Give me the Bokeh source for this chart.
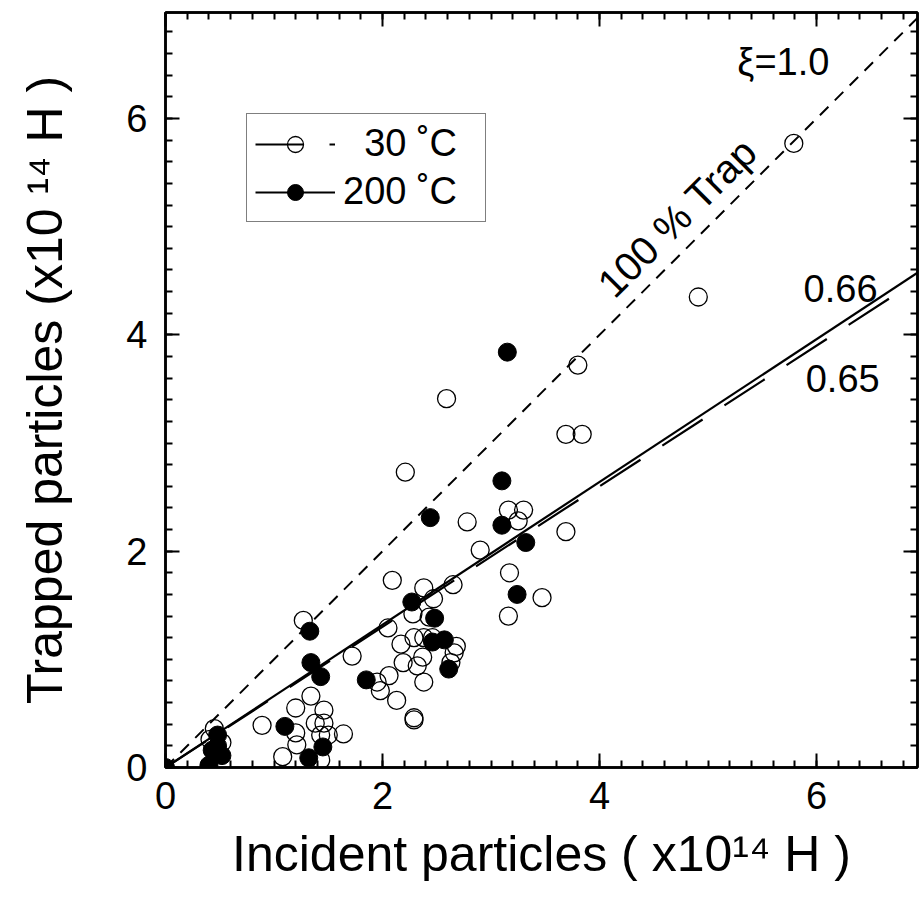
import math
from bokeh.plotting import figure
from bokeh.models import (Range1d, LinearAxis, SingleIntervalTicker, Label,
                          Legend, LegendItem)
from bokeh.embed import file_html
from bokeh.resources import INLINE

# ---------------- data ----------------
x30 = [0.45, 0.41, 0.52, 0.89, 1.08, 1.20, 1.20, 1.21, 1.27, 1.34, 1.38, 1.46,
       1.43, 1.50, 1.46, 1.43, 1.64, 1.72, 1.95, 1.98, 2.06, 2.05, 2.09, 2.13,
       2.17, 2.19, 2.21, 2.28, 2.29, 2.29, 2.29, 2.32, 2.37, 2.38, 2.38, 2.38,
       2.43, 2.46, 2.47, 2.59, 2.63, 2.66, 2.68, 2.65, 2.78, 2.90, 3.16, 3.30,
       3.25, 3.17, 3.16, 3.47, 3.69, 3.69, 3.84, 3.80, 4.91, 5.79]
y30 = [0.36, 0.26, 0.23, 0.39, 0.10, 0.55, 0.32, 0.21, 1.36, 0.66, 0.41, 0.41,
       0.30, 0.30, 0.53, 0.07, 0.31, 1.03, 0.79, 0.71, 0.85, 1.29, 1.73, 0.62,
       1.14, 0.97, 2.73, 1.42, 1.20, 0.46, 0.44, 0.94, 1.02, 1.66, 1.20, 0.79,
       1.39, 1.20, 1.56, 3.41, 0.97, 1.06, 1.12, 1.69, 2.27, 2.01, 2.38, 2.38,
       2.28, 1.80, 1.40, 1.57, 2.18, 3.08, 3.08, 3.72, 4.35, 5.77]

x200 = [0.00, 0.40, 0.43, 0.52, 0.48, 0.48, 1.10, 1.32, 1.45, 1.34, 1.43, 1.33,
        1.85, 2.27, 2.44, 2.48, 2.46, 2.57, 2.61, 3.10, 3.10, 3.15, 3.32, 3.24]
y200 = [0.00, 0.02, 0.16, 0.11, 0.30, 0.20, 0.38, 0.09, 0.19, 0.97, 0.84, 1.26,
        0.81, 1.53, 2.31, 1.38, 1.16, 1.18, 0.91, 2.65, 2.24, 3.84, 2.08, 1.60]

slope_full = 1.0      # 100 % trap (xi = 1.0)
slope_200 = 0.66      # fit 200 C
slope_30 = 0.65       # fit 30 C

series_labels = ["\u200730 \u02daC", "200 \u02daC"]
x_title = "Incident particles ( x10\u00b9\u2074 H )"
y_title = "Trapped particles (x10 \u00b9\u2074 H )"
tick_interval = 2

x_end = 6.93
y_end = 6.98

FONT = "Liberation Sans"

p = figure(width=919, height=904, x_range=Range1d(0, x_end), y_range=Range1d(0, y_end),
           output_backend="svg", toolbar_location=None,
           x_axis_location=None, y_axis_location=None,
           min_border_left=165, min_border_right=2, min_border_top=12, min_border_bottom=137)
p.outline_line_color = "black"
p.outline_line_width = 2.5
p.background_fill_color = "white"
p.border_fill_color = "white"
for g in p.grid:
    g.grid_line_color = None
    g.visible = False


def make_axis(labels, standoff):
    ax = LinearAxis(ticker=SingleIntervalTicker(interval=tick_interval, num_minor_ticks=10))
    ax.axis_line_width = 2.5
    ax.axis_line_color = "black"
    ax.major_tick_in = 14
    ax.major_tick_out = 0
    ax.minor_tick_in = 7
    ax.minor_tick_out = 0
    ax.major_tick_line_width = 2
    ax.minor_tick_line_width = 2
    ax.major_tick_line_color = "black"
    ax.minor_tick_line_color = "black"
    if labels:
        ax.major_label_text_font = FONT
        ax.major_label_text_font_size = "38px"
        ax.major_label_text_color = "black"
        ax.major_label_standoff = standoff
        ax.axis_label_text_font = FONT
        ax.axis_label_text_font_size = "50px"
        ax.axis_label_text_font_style = "normal"
        ax.axis_label_text_color = "black"
    else:
        ax.major_label_text_font_size = "1px"
        ax.major_label_text_color = None
        ax.major_label_standoff = 0
    return ax


xaxis = make_axis(True, 14)
xaxis.axis_label = x_title
xaxis.axis_label_standoff = 14
yaxis = make_axis(True, 18)
yaxis.axis_label = y_title
yaxis.axis_label_standoff = 50
p.add_layout(xaxis, "below")
p.add_layout(yaxis, "left")
p.add_layout(make_axis(False, 0), "above")
p.add_layout(make_axis(False, 0), "right")

# lines
xs_line = [0, x_end]
p.line(xs_line, [slope_full * v for v in xs_line], line_color="black", line_width=2,
       line_dash="12 9")
xs30 = [0, 6.8]
r30_line = p.line(xs30, [slope_30 * v for v in xs30], line_color="black",
                  line_width=2.2, line_dash="48 26")
r200_line = p.line(xs_line, [slope_200 * v for v in xs_line], line_color="black",
                   line_width=2.2)

# points
r30 = p.scatter(x30, y30, marker="circle", size=18, fill_color=None, line_color="black",
                line_width=1.3)
r200 = p.scatter(x200, y200, marker="circle", size=18, fill_color="black",
                 line_color="black", line_width=1)

legend = Legend(items=[LegendItem(label=series_labels[0], renderers=[r30_line, r30]),
                       LegendItem(label=series_labels[1], renderers=[r200_line, r200])],
                location=(81, 545), margin=0, padding=8, spacing=5,
                glyph_width=80, glyph_height=40, label_height=40, label_width=134,
                label_standoff=8, border_line_color="black", border_line_width=1.5,
                background_fill_color="white", background_fill_alpha=1.0,
                label_text_font=FONT, label_text_font_size="38px",
                label_text_color="black")
p.add_layout(legend, "center")

# annotations inside the plot
p.add_layout(Label(x=5.27, y=6.33, text="\u03be=1.0", text_font=FONT,
                   text_font_size="38px", text_color="black"))
p.add_layout(Label(x=4.19, y=4.27, text="100 % Trap", angle=math.pi / 4,
                   text_font=FONT, text_font_size="40px", text_color="black"))
p.add_layout(Label(x=5.88, y=4.30, text="0.66", text_font=FONT,
                   text_font_size="38px", text_color="black"))
p.add_layout(Label(x=5.90, y=3.47, text="0.65", text_font=FONT,
                   text_font_size="38px", text_color="black"))

open("out.html", "w").write(file_html(p, INLINE))
